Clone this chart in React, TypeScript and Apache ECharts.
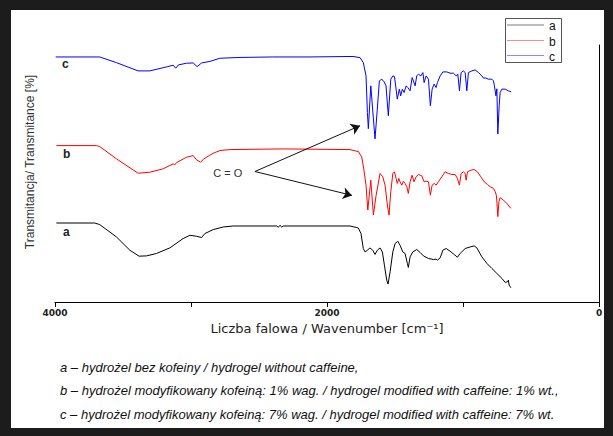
import React, { useEffect, useRef } from "react";
import * as echarts from "echarts";

const WIDTH = 613;
const HEIGHT = 436;

// Wavenumber axis (cm⁻¹), drawn high → low
const xMin = 0;
const xMax = 4000;
const xTickStep = 1000;
const xLabelledTicks = [4000, 2000, 0];

// Vertical scale: traces are offset so they stack a / b / c
const yMin = 0;
const yMax = 258;

const seriesNames = ["a", "b", "c"];
const seriesColors = ["#000000", "#ff0000", "#0000ff"];
const legendLineColors = ["#7a7a7a", "#ff8a8a", "#8a8aff"];

// a – hydrogel without caffeine: [wavenumber, offset transmittance]
const spectrumA: [number, number][] = [
  [3990, 79.3], [3708, 79.3], [3671, 77.7], [3548, 65.3], [3450, 52], [3382, 46],
  [3327, 46.3], [3254, 48.7], [3156, 54.3], [3058, 63.7], [3008, 67], [2959, 66],
  [2922, 64.7], [2898, 68.7], [2837, 72.7], [2763, 75.3], [2690, 76.3], [2370, 76.3],
  [2358, 75], [2346, 77], [2333, 75.3], [2322, 76.3], [1831, 76.3], [1781, 74.7],
  [1770, 74.3], [1750, 68.7], [1733, 53.7], [1720, 50.3], [1703, 52], [1684, 54.3],
  [1664, 52], [1647, 47.7], [1630, 52], [1610, 54.3], [1593, 50.3], [1578, 37],
  [1561, 22], [1551, 18], [1536, 30.3], [1516, 50.3], [1499, 58.7], [1480, 61],
  [1463, 57], [1443, 50.3], [1426, 48.7], [1409, 38.7], [1402, 34.7], [1389, 45.3],
  [1369, 50.3], [1340, 52.7], [1315, 49.7], [1291, 46.3], [1254, 43.7], [1218, 42.7],
  [1198, 43], [1188, 42], [1168, 44.3], [1148, 52], [1124, 53.7], [1095, 51],
  [1065, 47.7], [1041, 45], [1021, 48.7], [984, 53.7], [947, 55.3], [918, 56.3],
  [898, 54.3], [861, 45.3], [824, 38.7], [788, 33.7], [751, 28.7], [714, 23.7],
  [690, 19.7], [673, 20.3], [666, 22], [661, 17], [648, 14.3],
];

// b – hydrogel modified with caffeine 1% wt.
const spectrumB: [number, number][] = [
  [3990, 157], [3695, 157], [3671, 156], [3548, 143.7], [3389, 129.3], [3303, 130.3],
  [3205, 133.7], [3131, 138.7], [3119, 137.7], [3106, 140], [3033, 145.3], [2984, 147],
  [2959, 142.7], [2930, 140.3], [2905, 143.7], [2866, 147], [2837, 149.3], [2788, 152],
  [2714, 153], [2322, 153.7], [1831, 153], [1781, 151.3], [1770, 151.3], [1745, 145.7],
  [1728, 132.3], [1713, 117], [1700, 92.3], [1678, 122.3], [1659, 87.3], [1639, 107],
  [1610, 129], [1590, 125.7], [1573, 117.3], [1556, 97.3], [1544, 87.3], [1531, 110.7],
  [1516, 129], [1504, 130.7], [1492, 124], [1483, 119], [1472, 124], [1463, 120.7],
  [1450, 117.3], [1438, 121.3], [1426, 119], [1413, 115.7], [1402, 109], [1389, 120.7],
  [1374, 127.3], [1360, 120.7], [1345, 125.7], [1328, 128], [1303, 126.7], [1286, 120.7],
  [1271, 121.3], [1254, 120.7], [1240, 107.3], [1227, 117.3], [1212, 119], [1198, 117.3],
  [1181, 120.7], [1156, 125.7], [1131, 130.7], [1107, 129], [1082, 128], [1058, 128],
  [1041, 124], [1026, 117.3], [1014, 129], [997, 130.7], [984, 129], [977, 122.3],
  [967, 130.7], [942, 132.3], [918, 133], [894, 130.7], [869, 125.7], [844, 120.7],
  [820, 118], [800, 115.7], [776, 114], [763, 110.7], [755, 107.3], [751, 100.7],
  [744, 85.7], [736, 100.7], [727, 104.7], [702, 102.3], [678, 99], [648, 94],
];

// c – hydrogel modified with caffeine 7% wt.
const spectrumC: [number, number][] = [
  [3995, 246], [3671, 246], [3548, 240.3], [3389, 232], [3303, 232], [3180, 236],
  [3131, 237.7], [3112, 234.7], [3093, 238], [3033, 239.7], [2984, 240], [2955, 236.3],
  [2922, 240], [2861, 241.5], [2788, 244.7], [2640, 245.5], [2398, 246], [2125, 246],
  [1809, 246.5], [1757, 245.3], [1733, 240.3], [1713, 227], [1703, 190.3], [1696, 174],
  [1678, 217], [1647, 163.7], [1631, 192], [1615, 222], [1597, 223.7], [1580, 221],
  [1566, 217], [1549, 187], [1531, 223.7], [1516, 227], [1504, 226.3], [1492, 213.7],
  [1483, 203.7], [1468, 213.7], [1458, 207], [1446, 213.7], [1433, 210.3], [1418, 217],
  [1406, 215.3], [1389, 212], [1374, 225.3], [1365, 222], [1352, 217], [1340, 227],
  [1328, 228.7], [1310, 227], [1295, 230.3], [1286, 220.3], [1271, 227], [1254, 223.7],
  [1240, 197], [1227, 213.7], [1212, 218.7], [1198, 215.3], [1188, 220.3], [1168, 227],
  [1148, 231], [1119, 231], [1095, 229.7], [1070, 229.7], [1050, 227], [1038, 228.7],
  [1026, 212], [1014, 230.3], [997, 232], [984, 230.3], [972, 212], [960, 230.3],
  [935, 232], [911, 233], [886, 230.3], [861, 227], [849, 224.7], [837, 225],
  [813, 223.7], [788, 223.7], [776, 222], [769, 217], [758, 207], [751, 214],
  [744, 168.7], [734, 197], [727, 210.3], [714, 213.7], [690, 213.7], [666, 212],
  [646, 211],
];

const spectra = [spectrumA, spectrumB, spectrumC];

// C=O annotation: label anchor and the two arrow tips, in data coordinates
const carbonylLabel: [number, number] = [2729, 130];
const carbonylArrowStart: [number, number] = [2530, 131];
const carbonylArrowTips: [number, number][] = [
  [1757, 177],
  [1816, 107],
];

const captionLines = [
  "a – hydrożel bez kofeiny / hydrogel without caffeine,",
  "b – hydrożel modyfikowany kofeiną: 1% wag. / hydrogel modified with caffeine: 1% wt.,",
  "c – hydrożel modyfikowany kofeiną: 7% wag. / hydrogel modified with caffeine: 7% wt.",
];

const FONT = "Liberation Sans, Arial, sans-serif";

export default function App() {
  const ref = useRef<HTMLDivElement>(null);

  useEffect(() => {
    if (!ref.current) return;
    const chart = echarts.init(ref.current, undefined, { renderer: "svg" });

    const series: any[] = spectra.map((data, i) => ({
      name: seriesNames[i],
      type: "line",
      data,
      showSymbol: false,
      symbol: "none",
      smooth: false,
      lineStyle: { color: seriesColors[i], width: 1 },
      itemStyle: { color: seriesColors[i] },
      emphasis: { disabled: true },
      z: 3,
    }));

    series[2].markLine = {
      silent: true,
      symbol: ["none", "arrow"],
      symbolSize: 9,
      label: { show: false },
      lineStyle: { color: "#111", width: 1, type: "solid" },
      itemStyle: { color: "#111" },
      emphasis: { disabled: true },
      data: carbonylArrowTips.map((tip) => [
        { coord: carbonylArrowStart },
        { coord: tip },
      ]),
    };

    chart.setOption({
      animation: false,
      backgroundColor: "#1c1c1c",
      grid: { left: 55, right: 14, top: 45, bottom: 134, containLabel: false },
      xAxis: {
        type: "value",
        inverse: true,
        min: xMin,
        max: xMax,
        interval: xTickStep,
        axisLine: { show: true, lineStyle: { color: "#000", width: 1 } },
        axisTick: { show: true, inside: false, length: 5, lineStyle: { color: "#000" } },
        splitLine: { show: false },
        axisLabel: {
          margin: 6,
          color: "#222",
          fontFamily: "DejaVu Sans, sans-serif",
          fontSize: 9,
          fontWeight: "bold",
          formatter: (v: number) => (xLabelledTicks.includes(v) ? String(v) : ""),
        },
        name: "Liczba falowa / Wavenumber [cm⁻¹]",
        nameLocation: "middle",
        nameGap: 16,
        nameTextStyle: {
          color: "#222",
          fontFamily: "DejaVu Sans, sans-serif",
          fontSize: 13,
        },
      },
      yAxis: {
        type: "value",
        min: yMin,
        max: yMax,
        axisLine: { show: true, lineStyle: { color: "#000", width: 1 } },
        axisTick: { show: false },
        axisLabel: { show: false },
        splitLine: { show: false },
      },
      series,
    });

    const labelPos = chart.convertToPixel({ gridIndex: 0 }, carbonylLabel) as number[];

    const legendRows = [25, 40.5, 55.5];

    const graphic: any[] = [
      {
        type: "rect",
        z: -100,
        silent: true,
        shape: { x: 11, y: 10, width: 593, height: 418 },
        style: { fill: "#ffffff" },
      },
      {
        type: "text",
        x: 30,
        y: 162,
        rotation: Math.PI / 2,
        style: {
          text: "Transmitancja/ Transmitance [%]",
          fill: "#333",
          font: `12px ${FONT}`,
          align: "center",
          verticalAlign: "middle",
        },
      },
      {
        type: "text",
        x: labelPos[0],
        y: labelPos[1],
        style: {
          text: "C = O",
          fill: "#333",
          font: `11px ${FONT}`,
          align: "center",
          verticalAlign: "middle",
        },
      },
      { type: "text", x: 62, y: 64, style: { text: "c", fill: "#222", font: `bold 12px ${FONT}`, align: "left", verticalAlign: "middle" } },
      { type: "text", x: 63, y: 154, style: { text: "b", fill: "#222", font: `bold 12px ${FONT}`, align: "left", verticalAlign: "middle" } },
      { type: "text", x: 63, y: 232, style: { text: "a", fill: "#222", font: `bold 12px ${FONT}`, align: "left", verticalAlign: "middle" } },
      {
        type: "rect",
        shape: { x: 505.5, y: 18.5, width: 56, height: 44 },
        style: { fill: "#fff", stroke: "#555", lineWidth: 1 },
        z: 10,
      },
      ...seriesNames.flatMap((name, i) => [
        {
          type: "line",
          z: 11,
          shape: { x1: 507, y1: legendRows[i], x2: 544, y2: legendRows[i] },
          style: { stroke: legendLineColors[i], lineWidth: 1 },
        },
        {
          type: "text",
          z: 11,
          x: 549,
          y: legendRows[i] + 1,
          style: { text: name, fill: "#111", font: `12px ${FONT}`, align: "left", verticalAlign: "middle" },
        },
      ]),
      ...captionLines.map((line, i) => ({
        type: "text",
        x: 60,
        y: 367 + i * 23.5,
        style: {
          text: line,
          fill: "#111",
          font: `italic 13px ${FONT}`,
          align: "left",
          verticalAlign: "middle",
        },
      })),
    ];

    chart.setOption({ graphic });

    return () => chart.dispose();
  }, []);

  return (
    <div style={{ position: "fixed", left: 0, top: 0, width: WIDTH, height: HEIGHT }}>
      <div ref={ref} style={{ width: WIDTH, height: HEIGHT }} />
    </div>
  );
}
